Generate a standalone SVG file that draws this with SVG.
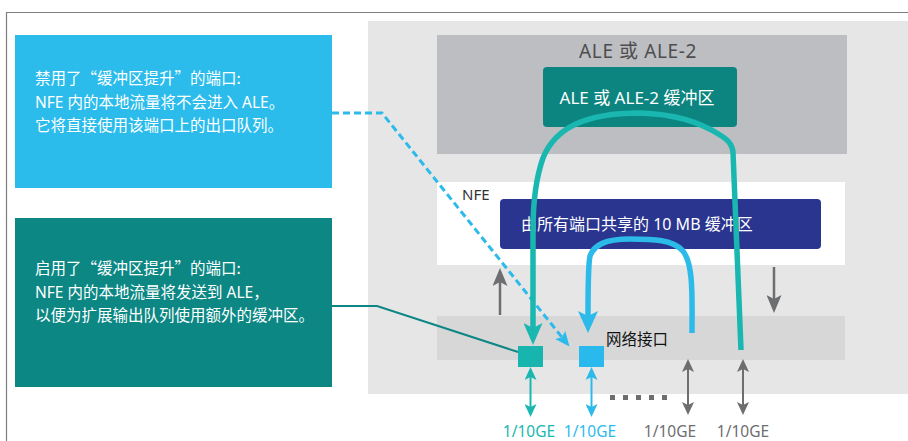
<svg xmlns="http://www.w3.org/2000/svg" width="908" height="441" viewBox="0 0 908 441">
  <style>
    .t { font-family: "Noto Sans", "Noto Sans CJK SC", sans-serif; }
    .cjk { font-family: "Noto Sans CJK SC", "Noto Sans", sans-serif; }
    .w { fill: #ffffff; }
    .callout { font-size: 15.5px; }
    .lbl { font-size: 15.5px; text-anchor: middle; }
    .thick { fill: none; stroke-width: 5.5; stroke-linecap: butt; stroke-linejoin: round; }
    .thin { fill: none; stroke-width: 2.5; }
    .small { fill: none; stroke-width: 2; }
  </style>
  <defs>
    <marker id="ahTeal" viewBox="0 0 22 19" refX="5" refY="9.5" markerWidth="22" markerHeight="19" markerUnits="userSpaceOnUse" orient="auto">
      <path d="M0,0 L22,9.5 L0,19 L5,9.5 Z" fill="#1ab7b0"/>
    </marker>
    <marker id="ahBlue" viewBox="0 0 22 20" refX="5" refY="10" markerWidth="22" markerHeight="20" markerUnits="userSpaceOnUse" orient="auto">
      <path d="M0,0 L22,10 L0,20 L5,10 Z" fill="#2cbaeb"/>
    </marker>
    <marker id="ahGray" viewBox="0 0 18 15" refX="5" refY="7.5" markerWidth="18" markerHeight="15" markerUnits="userSpaceOnUse" orient="auto">
      <path d="M0,0 L18,7.5 L0,15 L4,7.5 Z" fill="#6d6e70"/>
    </marker>
    <marker id="ahDash" viewBox="0 0 15 13" refX="11" refY="6.5" markerWidth="15" markerHeight="13" markerUnits="userSpaceOnUse" orient="auto">
      <path d="M0,0 L15,6.5 L0,13 L3,6.5 Z" fill="#2cbaeb"/>
    </marker>
    <marker id="sTeal" viewBox="0 0 13 12" refX="4" refY="6" markerWidth="13" markerHeight="12" markerUnits="userSpaceOnUse" orient="auto-start-reverse">
      <path d="M0,0 L13,6 L0,12 L3,6 Z" fill="#1ab7b0"/>
    </marker>
    <marker id="sBlue" viewBox="0 0 13 12" refX="4" refY="6" markerWidth="13" markerHeight="12" markerUnits="userSpaceOnUse" orient="auto-start-reverse">
      <path d="M0,0 L13,6 L0,12 L3,6 Z" fill="#2cbaeb"/>
    </marker>
    <marker id="sGray" viewBox="0 0 13 12" refX="4" refY="6" markerWidth="13" markerHeight="12" markerUnits="userSpaceOnUse" orient="auto-start-reverse">
      <path d="M0,0 L13,6 L0,12 L3,6 Z" fill="#6d6e70"/>
    </marker>
  </defs>

  <rect width="908" height="441" fill="#ffffff"/>
  <path d="M6.5,441 L6.5,12.5 L908,12.5" fill="none" stroke="#7f7f7f" stroke-width="1.2"/>

  <g id="switch-area">
    <rect x="368" y="21" width="540" height="373" fill="#e6e6e7"/>
  </g>

  <g id="ale">
    <rect x="437" y="35" width="410" height="119" fill="#bdbec1"/>
    <text class="t" x="638" y="57.5" font-size="19" letter-spacing="0.6" text-anchor="middle" fill="#4d4d4f">ALE 或 ALE-2</text>
  </g>

  <g id="ale-buffer">
    <rect x="543" y="67" width="194" height="60" rx="4" fill="#0c8480"/>
    <text class="t w" x="637" y="103.5" font-size="17" text-anchor="middle">ALE 或 ALE-2 缓冲区</text>
  </g>

  <g id="nfe">
    <rect x="437" y="182" width="408" height="83" fill="#ffffff"/>
    <text class="t" x="462" y="200" font-size="15" fill="#333333">NFE</text>
  </g>

  <g id="nfe-buffer">
    <rect x="500" y="199" width="321" height="50" rx="4" fill="#29358f"/>
    <text class="t w" x="521" y="230" font-size="16">由所有端口共享的 10 MB 缓冲区</text>
  </g>

  <g id="network-interface">
    <rect x="437" y="316" width="408" height="44" fill="#d7d7d8"/>
    <text class="cjk" x="606" y="345" font-size="15.5" fill="#111111">网络接口</text>
  </g>

  <g id="callout-disabled">
    <rect x="15" y="35" width="317" height="153" fill="#2bbcec"/>
    <text class="cjk w callout" x="35" y="84">禁用了“缓冲区提升”的端口:</text>
    <text class="t w callout" x="35" y="107.5">NFE 内的本地流量将不会进入 ALE。</text>
    <text class="t w callout" x="35" y="131">它将直接使用该端口上的出口队列。</text>
  </g>

  <g id="callout-enabled">
    <rect x="15" y="218" width="317" height="169" fill="#0c8784"/>
    <text class="cjk w callout" x="35" y="274">启用了“缓冲区提升”的端口:</text>
    <text class="t w callout" x="35" y="297.5">NFE 内的本地流量将发送到 ALE，</text>
    <text class="t w callout" x="35" y="321">以便为扩展输出队列使用额外的缓冲区。</text>
  </g>

  <g id="connectors">
    <path d="M332,306 L377,306 L518,352" fill="none" stroke="#0c8784" stroke-width="2"/>
    <path d="M332,113 L382,113 L567,343.5" fill="none" stroke-width="3" stroke="#2cbaeb" stroke-dasharray="7 4" marker-end="url(#ahDash)"/>
    <path d="M500,315 L500,281" class="thin" stroke="#6d6e70" marker-end="url(#ahGray)"/>
    <path d="M774,267 L774,300" class="thin" stroke="#6d6e70" marker-end="url(#ahGray)"/>
    <path d="M741,350 L733,152 C732,144 728,140 720,135 C700,122 675,114 640,113 C585,113 555,128 543,158 C537,175 533,195 533,230 L533,328" class="thick" stroke="#1ab7b0" marker-end="url(#ahTeal)"/>
    <path d="M692,333 C692,300 694,262 682,250 C672,240 655,239 630,239 C605,239 594,245 590,256 C588,265 588,285 588,316" class="thick" stroke="#2cbaeb" marker-end="url(#ahBlue)"/>
    <path d="M530.5,376 L530.5,408" class="small" stroke="#1ab7b0" marker-start="url(#sTeal)" marker-end="url(#sTeal)"/>
    <path d="M591.5,376 L591.5,408" class="small" stroke="#2cbaeb" marker-start="url(#sBlue)" marker-end="url(#sBlue)"/>
    <path d="M688,368 L688,406" class="small" stroke="#6d6e70" marker-start="url(#sGray)" marker-end="url(#sGray)"/>
    <path d="M743,368 L743,406" class="small" stroke="#6d6e70" marker-start="url(#sGray)" marker-end="url(#sGray)"/>
  </g>

  <g id="port-enabled">
    <rect x="518" y="346" width="25" height="21" fill="#17b5ad"/>
  </g>
  <g id="port-disabled">
    <rect x="579" y="346" width="25" height="21" fill="#2ab9ec"/>
  </g>

  <g id="more-ports" fill="#6d6e70">
    <rect x="610" y="395" width="5" height="5"/>
    <rect x="623" y="395" width="5" height="5"/>
    <rect x="636" y="395" width="5" height="5"/>
    <rect x="649" y="395" width="5" height="5"/>
    <rect x="662" y="395" width="5" height="5"/>
  </g>

  <g id="port-labels">
    <text class="t lbl" x="529" y="437" fill="#1ab7b0">1/10GE</text>
    <text class="t lbl" x="590" y="437" fill="#2cbaeb">1/10GE</text>
    <text class="t lbl" x="670" y="437" fill="#6d6e70">1/10GE</text>
    <text class="t lbl" x="743" y="437" fill="#6d6e70">1/10GE</text>
  </g>
</svg>
